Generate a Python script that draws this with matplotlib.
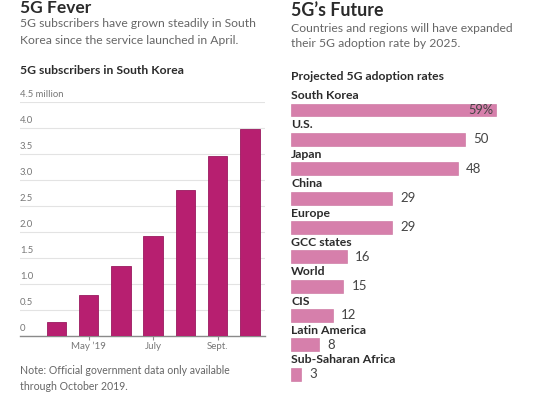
import matplotlib
matplotlib.use("Agg")
import matplotlib.pyplot as plt
from matplotlib.transforms import offset_copy

plt.rcParams['font.family'] = ['Lato', 'DejaVu Sans']

# ---- data ----
months = ["Apr", "May", "Jun", "Jul", "Aug", "Sep", "Oct"]
subscribers = [0.27, 0.78, 1.34, 1.92, 2.80, 3.47, 3.99]   # millions
month_ticks = [1, 3, 5]
month_labels = ["May \u201919", "July", "Sept."]
y_ticks = [0, 0.5, 1.0, 1.5, 2.0, 2.5, 3.0, 3.5, 4.0, 4.5]
y_labels = ["0", "0.5", "1.0", "1.5", "2.0", "2.5", "3.0", "3.5", "4.0", "4.5 million"]

regions = ["South Korea", "U.S.", "Japan", "China", "Europe", "GCC states",
           "World", "CIS", "Latin America", "Sub-Saharan Africa"]
adoption = [59, 50, 48, 29, 29, 16, 15, 12, 8, 3]

W, H = 550, 394
fig = plt.figure(figsize=(W / 100, H / 100), dpi=100)
fig.patch.set_facecolor("white")

def fx(px):
    return px / W

def fy(py):
    return 1 - py / H

dark = "#2b2b2b"
grey = "#666666"
light = "#777777"

# ---- left texts ----
fig.text(fx(20), fy(8), "5G Fever", fontsize=12.5, fontweight="bold", color=dark, va="center", ha="left")
fig.text(fx(20), fy(23.5), "5G subscribers have grown steadily in South", fontsize=8.7, color=grey, va="center")
fig.text(fx(20), fy(40), "Korea since the service launched in April.", fontsize=8.7, color=grey, va="center")
fig.text(fx(20), fy(71), "5G subscribers in South Korea", fontsize=8.7, fontweight="bold", color=dark, va="center")
fig.text(fx(20), fy(371), "Note: Official government data only available", fontsize=7.6, color=grey, va="center")
fig.text(fx(20), fy(387), "through October 2019.", fontsize=7.6, color=grey, va="center")

# ---- left chart ----
ax = fig.add_axes([fx(20), fy(336), fx(265) - fx(20), fy(102) - fy(336)])
x = list(range(len(subscribers)))
ax.bar(x, subscribers, width=0.6, color="#b71f70", edgecolor="#9a1a5f", linewidth=0.6, zorder=3)
ax.set_xlim(-1.13, 6.47)
ax.set_ylim(0, 4.5)
for s in ["top", "right", "left"]:
    ax.spines[s].set_visible(False)
ax.spines["bottom"].set_color("#8a8a8a")
ax.spines["bottom"].set_linewidth(1.0)
ax.set_yticks(y_ticks)
ax.yaxis.grid(True, color="#e3e3e3", linewidth=0.8, zorder=0)
ax.tick_params(axis="y", length=0, labelleft=False)
for v, lab in zip(y_ticks, y_labels):
    tr = offset_copy(ax.get_yaxis_transform(), fig=fig, x=0, y=2, units="points")
    ax.text(0, v, lab, transform=tr, fontsize=6.8, color=light, ha="left", va="bottom")
ax.set_xticks(month_ticks)
ax.set_xticklabels(month_labels, fontsize=7, color=light)
ax.tick_params(axis="x", length=3, width=0.8, color="#8a8a8a", pad=1)

# ---- right texts ----
fig.text(fx(291), fy(10.5), "5G\u2019s Future", fontsize=12.8, fontweight="bold", color=dark, va="center")
fig.text(fx(291), fy(28), "Countries and regions will have expanded", fontsize=8.7, color=grey, va="center")
fig.text(fx(291), fy(43.5), "their 5G adoption rate by 2025.", fontsize=8.7, color=grey, va="center")
fig.text(fx(291), fy(76), "Projected 5G adoption rates", fontsize=8.7, fontweight="bold", color=dark, va="center")

# ---- right chart ----
ax2 = fig.add_axes([fx(291), fy(390), fx(540) - fx(291), fy(90) - fy(390)])
ax2.set_axis_off()
y = list(range(len(adoption)))
ax2.barh(y, adoption, height=0.44, color="#d67fab", edgecolor="#c96e9c", linewidth=0.4)
ax2.set_xlim(0, 249 / 3.47)
ax2.set_ylim((390 - 110) / 29.35, (90 - 110) / 29.35)
for i, (r, v) in enumerate(zip(regions, adoption)):
    ax2.text(0, i - 0.49, r, fontsize=8.8, fontweight="bold", color=dark, ha="left", va="center")
    if i == 0:
        tr = offset_copy(ax2.transData, fig=fig, x=-2, y=0, units="points")
        ax2.text(v, i, f"{v}%", transform=tr, fontsize=9.2, color="#444444", ha="right", va="center")
    else:
        tr = offset_copy(ax2.transData, fig=fig, x=6, y=0, units="points")
        ax2.text(v, i, f"{v}", transform=tr, fontsize=9.5, color="#444444", ha="left", va="center")

fig.savefig("out.png", dpi=100, facecolor="white")
